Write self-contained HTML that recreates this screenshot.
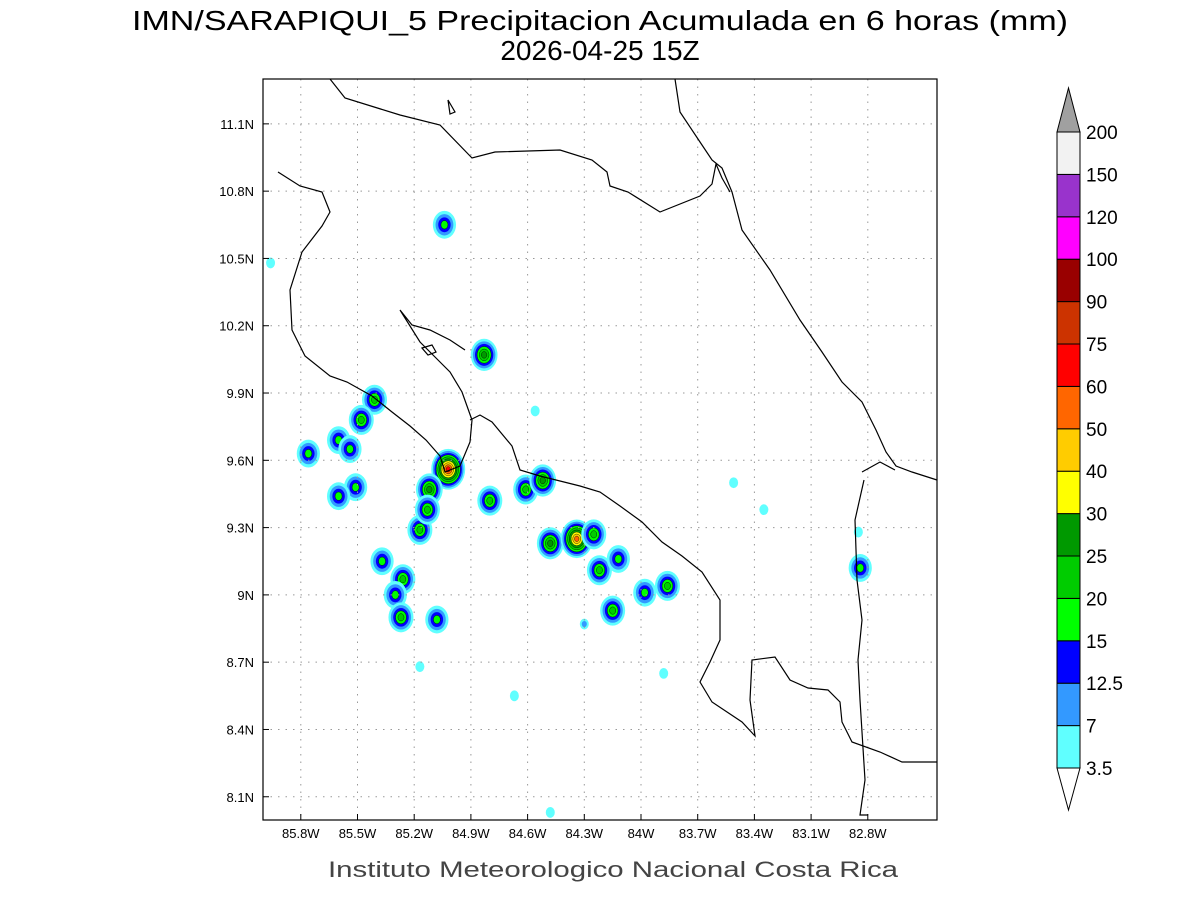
<!DOCTYPE html>
<html><head><meta charset="utf-8"><style>
body{margin:0;background:#fff;}
svg{display:block;font-family:"Liberation Sans",sans-serif;}
</style></head><body>
<svg id="s" width="1200" height="900" viewBox="0 0 1200 900">
<text x="600" y="30" text-anchor="middle" font-size="28" textLength="936" lengthAdjust="spacingAndGlyphs">IMN/SARAPIQUI_5 Precipitacion Acumulada en 6 horas (mm)</text>
<text x="600" y="60" text-anchor="middle" font-size="28">2026-04-25 15Z</text>
<g id="blobs"></g>
<g id="grid"></g>
<g fill="none" stroke="#000" stroke-width="1.2">
<path d="M330,79 L345,98 L400,115 L440,125 L472,158 L495,152 L560,150 L592,160 L607,172 L610,186 L628,192 L660,212 L700,196 L712,184 L716,164 L722,178 L730,192"/>
<path d="M675,79 L680,112 L700,142 L712,160 L722,168 L732,192 L742,230 L770,270 L800,320 L822,352 L842,382 L862,402 L876,430 L886,452 L896,466 L912,472 L937,480"/>
<path d="M278,172 L300,186 L322,192 L330,212 L322,226 L302,252 L290,290 L292,330 L305,356 L330,376 L347,382 L372,396 L392,412 L410,426 L426,440 L440,456 L445,472 L460,466 L470,442 L472,420 L462,392 L450,372 L440,362 L420,342 L400,310 L412,325 L430,330 L450,340 L465,350"/>
<path d="M470,420 L480,415 L492,422 L512,446 L520,470 L540,476 L560,481 L580,486 L600,492 L620,506 L642,522 L662,542 L682,556 L702,572 L720,600 L720,640 L710,662 L700,682 L712,702 L742,722 L755,736 L750,700 L752,660 L775,657 L790,680 L808,688 L828,690 L840,702 L842,722 L852,742 L880,752 L902,762 L937,762"/>
<path d="M864,480 L855,520 L857,580 L862,620 L858,660 L860,700 L865,780 L860,815 L868,815"/>
<path d="M862,472 L880,462 L895,470"/>
<path d="M448,100 L455,112 L450,114 Z"/>
<path d="M422,348 L432,345 L436,352 L428,355 Z"/>
</g>
<rect x="263" y="79" width="674" height="741" fill="none" stroke="#000" stroke-width="1.2"/>
<g id="axes" font-size="13"></g>
<g id="cbar"></g>
<text x="613" y="877" text-anchor="middle" font-size="22" fill="#444" textLength="570" lengthAdjust="spacingAndGlyphs">Instituto Meteorologico Nacional Costa Rica</text>
</svg>
<script>
const levels=[3.5,7,12.5,15,20,25,30,40,50,60,75,90,100,120,150,200];
const colors=["#60ffff","#3399ff","#0000ff","#00ff00","#00cc00","#009900","#ffff00","#ffcc00","#ff6600","#ff0000","#cc3300","#990000","#ff00ff","#9933cc","#f2f2f2"];
const lonTicks=[85.8,85.5,85.2,84.9,84.6,84.3,84.0,83.7,83.4,83.1,82.8];
const lonLabels=["85.8W","85.5W","85.2W","84.9W","84.6W","84.3W","84W","83.7W","83.4W","83.1W","82.8W"];
const latTicks=[11.1,10.8,10.5,10.2,9.9,9.6,9.3,9.0,8.7,8.4,8.1];
const latLabels=["11.1N","10.8N","10.5N","10.2N","9.9N","9.6N","9.3N","9N","8.7N","8.4N","8.1N"];
const cellLon=[85.04,84.83,85.02,85.12,85.17,85.13,84.80,84.61,84.52,84.48,84.34,84.25,84.22,84.12,84.15,83.98,83.86,85.41,85.48,85.60,85.54,85.76,85.51,85.60,85.37,85.26,85.30,85.27,85.08,82.84,83.51,83.35,82.85,84.56,85.96,83.88,85.17,84.67,84.48,84.30];
const cellLat=[10.65,10.07,9.56,9.47,9.29,9.38,9.42,9.47,9.51,9.23,9.25,9.27,9.11,9.16,8.93,9.01,9.04,9.87,9.78,9.69,9.65,9.63,9.48,9.44,9.15,9.07,9.00,8.90,8.89,9.12,9.50,9.38,9.28,9.82,10.48,8.65,8.68,8.55,8.03,8.87];
const cellPeak=[15,25,60,25,20,20,20,20,25,25,50,20,20,15,20,15,20,20,20,15,15,15,15,15,15,20,15,20,15,15,3.5,3.5,3.5,3.5,3.5,3.5,3.5,3.5,3.5,7];
const NS="http://www.w3.org/2000/svg";
const X=lon=>263+(86.0-lon)*189;
const Y=lat=>79+(11.3-lat)*224.3;
function mk(tag,attrs,parent){const e=document.createElementNS(NS,tag);for(const k in attrs)e.setAttribute(k,attrs[k]);parent.appendChild(e);return e;}
const blobs=document.getElementById('blobs');
cellLon.forEach((lo,i)=>{
  const pk=cellPeak[i];let n=levels.filter(l=>l<=pk).length;
  const base=pk<=7?4.5:8+n*0.9;
  for(let k=0;k<n;k++){
    const r=Math.max(1.5,base*(1-k/(n+0.3)));
    const e=mk('ellipse',{cx:X(lo),cy:Y(cellLat[i]),rx:r,ry:r*1.2,fill:colors[k],stroke:k>=3?'#000':'none','stroke-width':0.4},blobs);
    
    
  }
});
const grid=document.getElementById('grid'),axes=document.getElementById('axes');
lonTicks.forEach((v,i)=>{
  const l=mk('line',{x1:X(v),x2:X(v),y1:79,y2:820,stroke:'#999','stroke-dasharray':'1.5,6'},grid);
  
  mk('line',{x1:X(v),x2:X(v),y1:820,y2:814,stroke:'#000'},axes);
  const t=mk('text',{x:X(v),y:838,'text-anchor':'middle'},axes);t.textContent=lonLabels[i];
  
});
latTicks.forEach((v,i)=>{
  const l=mk('line',{x1:263,x2:937,y1:Y(v),y2:Y(v),stroke:'#999','stroke-dasharray':'1.5,6'},grid);
  
  mk('line',{x1:263,x2:269,y1:Y(v),y2:Y(v),stroke:'#000'},axes);
  const t=mk('text',{x:254,y:Y(v)+5,'text-anchor':'end'},axes);t.textContent=latLabels[i];
  
});
const cb=document.getElementById('cbar');
const cy=v=>768-levels.indexOf(v)*42.4;
const bt=mk('path',{d:`M1057,768 L1080,768 L1068.5,810 Z`,fill:'#fff',stroke:'#000'},cb);

colors.forEach((c,i)=>{
  const y1=cy(levels[i+1]),y0=cy(levels[i]);
  const r=mk('rect',{x:1057,y:y1,width:23,height:y0-y1,fill:c,stroke:'#000'},cb);
  
});
const tt=mk('path',{d:`M1057,${cy(200)} L1080,${cy(200)} L1068.5,88 Z`,fill:'#a0a0a0',stroke:'#000'},cb);

levels.forEach(v=>{
  const t=mk('text',{x:1086,y:cy(v)+7,'font-size':19},cb);t.textContent=v;
  
});
</script>
</body></html>
